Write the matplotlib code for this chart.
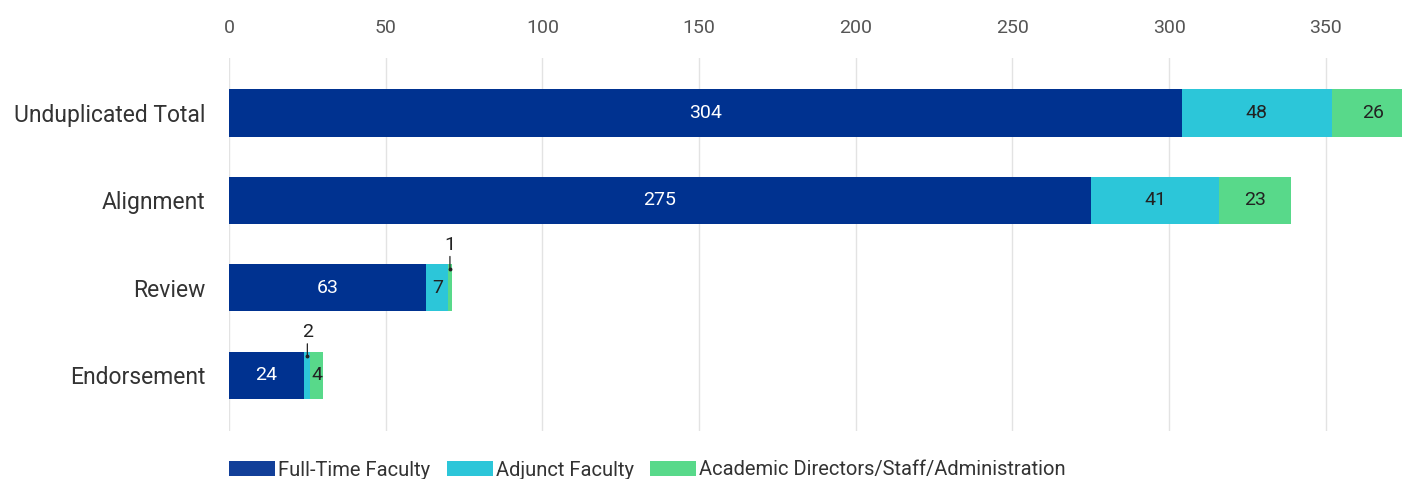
import matplotlib
matplotlib.use("Agg")
import matplotlib.pyplot as plt
from matplotlib.patches import Patch

categories = ["Unduplicated Total", "Alignment", "Review", "Endorsement"]
full_time = [304, 275, 63, 24]
adjunct = [48, 41, 7, 2]
academic = [26, 23, 1, 4]
series_names = ["Full-Time Faculty", "Adjunct Faculty", "Academic Directors/Staff/Administration"]
xticks = [0, 50, 100, 150, 200, 250, 300, 350]

colors = ["#003290", "#2cc6d9", "#58d98a"]
label_colors = ["white", "#222222", "#222222"]

plt.rcParams['font.family'] = ['Roboto', 'DejaVu Sans']

fig = plt.figure(figsize=(14.02, 4.79), dpi=100)
ax = fig.add_axes([229/1402, 1 - 431/479, (1402-229)/1402, (431-58)/479])

y = list(range(len(categories)))
series = [full_time, adjunct, academic]
lefts = [0]*len(categories)
for s, (vals, c, lc) in enumerate(zip(series, colors, label_colors)):
    ax.barh(y, vals, left=lefts, height=0.54, color=c, zorder=2)
    for i, v in enumerate(vals):
        cx = lefts[i] + v/2
        if v >= 3:
            ax.text(cx, y[i], str(v), ha="center", va="center", color=lc, fontsize=14, zorder=3)
        else:
            ax.annotate(str(v), xy=(cx, y[i] - 0.22), xytext=(cx, y[i] - 0.39),
                        ha="center", va="bottom", fontsize=14, color="#222222",
                        arrowprops=dict(arrowstyle="-", color="#222222", lw=0.9,
                                        shrinkA=0, shrinkB=0), zorder=3)
            ax.plot([cx], [y[i] - 0.22], marker="o", ms=1.8, color="#222222", zorder=4)
    lefts = [l + v for l, v in zip(lefts, vals)]

ax.set_xlim(0, 374.3)
ax.set_ylim(3.64, -0.63)
ax.set_yticks(y)
ax.set_yticklabels(categories, fontsize=16.5, color="#333333")
ax.set_xticks(xticks)
ax.set_xticklabels([str(t) for t in xticks], fontsize=14, color="#555555")
ax.xaxis.tick_top()
ax.tick_params(axis="x", length=0, pad=15)
ax.tick_params(axis="y", length=0, pad=17)
for sp in ax.spines.values():
    sp.set_visible(False)
ax.grid(axis="x", color="#e3e3e3", lw=1, zorder=0)
ax.set_axisbelow(True)

handles = [Patch(facecolor=c, label=n) for c, n in zip(["#123f99", colors[1], colors[2]], series_names)]
fig.legend(handles=handles, loc="center left", bbox_to_anchor=(229/1402, 1 - 470/479),
           ncol=3, frameon=False, fontsize=14.5, handlelength=2.3, handleheight=0.7,
           handletextpad=0.15, columnspacing=0.8, borderaxespad=0, borderpad=0,
           labelcolor="#333333")

fig.savefig("out.png", dpi=100)
